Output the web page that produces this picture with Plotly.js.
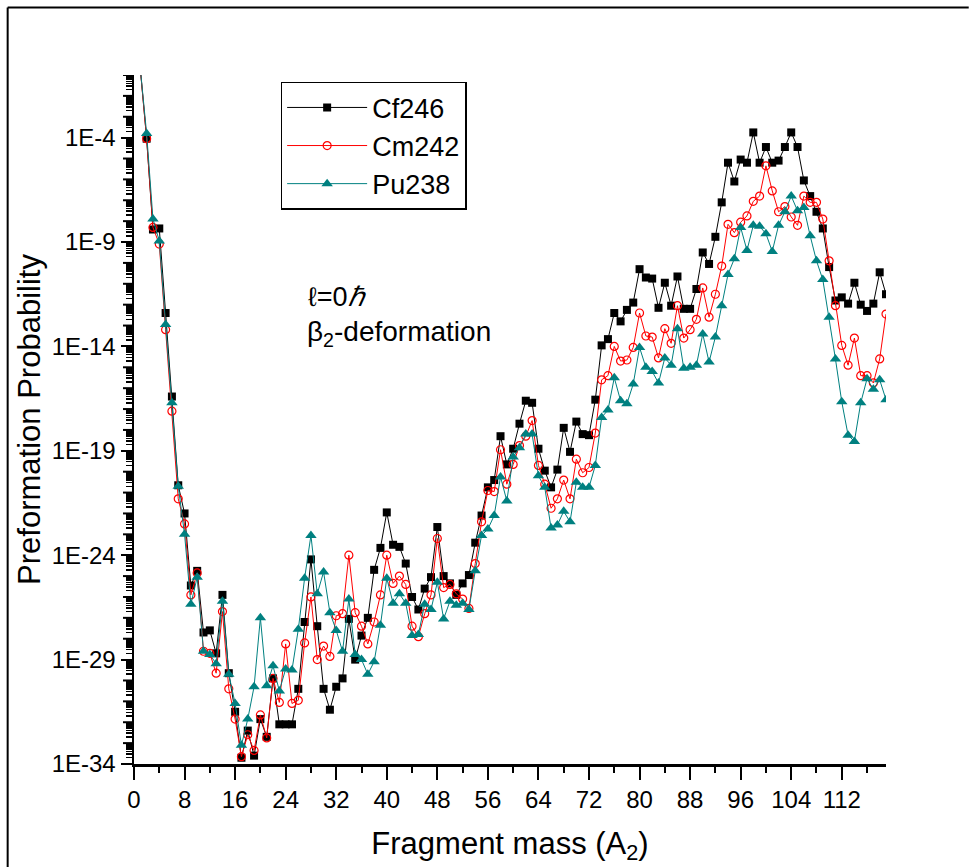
<!DOCTYPE html>
<html>
<head>
<meta charset="utf-8">
<script src="https://cdn.plot.ly/plotly-3.0.1.min.js"></script>
<style>
  html, body { margin: 0; padding: 0; background: #ffffff; }
  #chart { width: 969px; height: 867px; }
</style>
</head>
<body>
<div id="chart"></div>
<script>
// Fragment mass A2 (1..119)
const fragmentMass = Array.from({length: 119}, (_, i) => i + 1);

// log10 of preformation probability
const cf246Log = [
  -0.7, -4.05, -8.4, -8.35, -12.4, -16.4, -20.65, -22.0, -25.45, -24.75,
  -27.7, -27.6, -28.7, -25.9, -29.65, -31.5, -33.7, -32.4, -33.6, -31.85,
  -32.7, -29.9, -32.1, -32.1, -32.1, -30.4, -27.2, -24.2, -27.4, -30.4,
  -31.4, -30.3, -29.9, -27.05, -29.0, -27.85, -27.0, -24.7, -23.65, -21.95,
  -23.5, -23.6, -24.4, -26.0, -26.6, -25.6, -25.05, -22.65, -25.0, -25.35,
  -25.9, -25.35, -24.95, -23.4, -22.1, -20.75, -20.4, -18.3, -19.65, -18.9,
  -17.7, -16.6, -16.7, -18.9, -19.95, -20.75, -19.9, -17.9, -19.05, -17.6,
  -18.2, -18.25, -16.55, -13.95, -13.65, -12.4, -12.8, -12.25, -11.9, -10.3,
  -10.7, -10.75, -12.15, -10.95, -12.05, -10.65, -12.2, -12.2, -11.25, -9.5,
  -10.05, -8.75, -7.1, -5.2, -6.1, -5.05, -5.2, -3.75, -5.2, -4.45,
  -5.2, -5.1, -4.45, -3.75, -4.45, -6.05, -6.8, -7.55, -8.35, -10.2,
  -11.8, -11.65, -11.95, -10.95, -12.0, -12.3, -11.95, -10.45, -11.5
];
const cm242Log = [
  -0.7, -4.05, -8.3, -9.1, -13.2, -17.1, -21.3, -22.5, -25.9, -24.85,
  -28.6, -28.7, -29.65, -26.7, -30.4, -31.85, -33.65, -32.6, -33.35, -31.65,
  -32.75, -29.9, -31.05, -28.25, -31.1, -30.95, -28.2, -26.0, -29.0, -28.35,
  -28.85, -26.9, -26.8, -24.0, -26.75, -27.4, -28.25, -27.2, -25.9, -24.0,
  -25.35, -25.0, -25.4, -27.4, -27.9, -26.8, -25.9, -23.2, -25.55, -25.4,
  -25.85, -26.1, -26.55, -24.4, -22.4, -20.9, -20.95, -18.95, -20.6, -19.65,
  -18.75, -18.3, -17.55, -19.7, -20.6, -21.75, -21.3, -20.4, -21.3, -19.4,
  -20.05, -19.8, -18.15, -15.6, -15.4, -14.0, -14.7, -14.65, -14.05, -12.4,
  -13.5, -13.55, -14.55, -13.15, -13.85, -12.05, -13.6, -13.2, -12.7, -11.2,
  -12.6, -11.5, -10.15, -8.15, -8.55, -8.05, -7.75, -7.05, -6.8, -5.35,
  -6.55, -7.55, -7.3, -7.8, -8.2, -6.8, -7.1, -7.1, -7.9, -9.9,
  -12.05, -13.95, -14.9, -13.6, -15.4, -15.4, -15.75, -14.6, -12.45
];
const pu238Log = [
  -0.7, -3.8, -7.9, -8.95, -12.95, -16.7, -20.7, -23.0, -26.35, -25.05,
  -28.6, -28.75, -29.2, -26.2, -29.7, -31.1, -33.1, -31.85, -30.3, -27.0,
  -30.25, -29.3, -30.5, -29.45, -29.5, -27.55, -25.1, -23.05, -25.85, -24.8,
  -26.75, -27.6, -28.6, -26.1, -28.75, -29.0, -29.7, -29.1, -27.35, -25.1,
  -26.3, -25.85, -26.3, -27.85, -27.8, -26.35, -26.6, -25.3, -27.05, -26.2,
  -26.4, -26.3, -26.6, -24.75, -23.05, -22.75, -22.1, -20.25, -21.4, -19.3,
  -18.85, -18.2, -18.2, -20.2, -20.75, -22.7, -22.55, -21.9, -22.4, -20.5,
  -20.75, -20.75, -19.7, -17.4, -17.05, -15.5, -16.6, -16.75, -15.8, -14.05,
  -15.0, -15.2, -15.75, -14.55, -14.9, -13.15, -15.05, -15.0, -14.9, -13.4,
  -14.75, -13.55, -12.05, -10.55, -9.8, -8.3, -9.4, -8.2, -8.25, -8.6,
  -9.45, -8.2, -7.55, -6.8, -7.5, -7.35, -8.7, -9.9, -10.8, -12.6,
  -14.6, -16.65, -18.25, -18.55, -16.7, -15.55, -16.05, -15.6, -16.55
];

const seriesNames = ["Cf246", "Cm242", "Pu238"];
const labeledDecades = [-34, -29, -24, -19, -14, -9, -4];
const xTickStep = 8;

const toVal = arr => arr.map(v => Math.pow(10, v));

const narrow = "Liberation Sans Narrow, Arial Narrow, Liberation Sans, Arial, sans-serif";
const regular = "Liberation Sans, Arial, sans-serif";

const traces = [
  {
    x: fragmentMass, y: toVal(cf246Log), name: seriesNames[0],
    type: "scatter", mode: "lines+markers",
    line: {color: "#000000", width: 1},
    marker: {symbol: "square", size: 8, color: "#000000"}
  },
  {
    x: fragmentMass, y: toVal(cm242Log), name: seriesNames[1],
    type: "scatter", mode: "lines+markers",
    line: {color: "#ff0000", width: 1},
    marker: {symbol: "circle-open", size: 8, color: "#ff0000", line: {width: 1.2}}
  },
  {
    x: fragmentMass, y: toVal(pu238Log), name: seriesNames[2],
    type: "scatter", mode: "lines+markers",
    line: {color: "#008080", width: 1},
    marker: {symbol: "triangle-up", size: 10, color: "#008080"}
  }
];

// y ticks: labels every 5 decades, long ticks every decade, short sub-decade ticks
const labeledVals = labeledDecades.map(d => Math.pow(10, d));
const labeledText = labeledDecades.map(d => "1E" + d);
const decadeVals = [], subVals = [];
for (let d = -34; d <= -1; d++) {
  if (!labeledDecades.includes(d)) decadeVals.push(Math.pow(10, d));
  if (d < -1) for (let k = 2; k <= 9; k++) subVals.push(k * Math.pow(10, d));
}
const plotWidthPx = 969 - 134 - 83;
const decadeTickShapes = decadeVals.map(v => ({
  type: "line", xref: "paper", yref: "y", x0: -11 / plotWidthPx, x1: 0, y0: v, y1: v,
  line: {color: "#000000", width: 2}
}));

const layout = {
  width: 969, height: 867,
  margin: {l: 134, r: 83, t: 75, b: 103},
  paper_bgcolor: "#ffffff", plot_bgcolor: "#ffffff",
  font: {family: narrow, color: "#000000"},
  showlegend: true,
  legend: {
    x: 0.195, y: 0.99, xanchor: "left", yanchor: "top",
    bordercolor: "#000000", borderwidth: 1.5, bgcolor: "#ffffff",
    font: {family: regular, size: 27}, itemwidth: 80
  },
  xaxis: {
    range: [0, 119], showgrid: false, zeroline: false,
    showline: true, linecolor: "#000000", linewidth: 2.5,
    ticks: "outside", ticklen: 13, tickwidth: 2, tickcolor: "#000000",
    tick0: 0, dtick: xTickStep,
    minor: {dtick: xTickStep / 2, ticks: "outside", ticklen: 6, tickwidth: 2, tickcolor: "#000000"},
    tickfont: {family: narrow, size: 24},
    title: {text: "Fragment mass (A<sub>2</sub>)", font: {family: narrow, size: 31}, standoff: 20}
  },
  yaxis: {
    type: "log", range: [-34, -1], showgrid: false, zeroline: false,
    showline: true, linecolor: "#000000", linewidth: 2.5,
    tickmode: "array", tickvals: labeledVals, ticktext: labeledText,
    ticks: "outside", ticklen: 11, tickwidth: 2, tickcolor: "#000000",
    minor: {tickmode: "array", tickvals: subVals, ticks: "outside", ticklen: 6, tickwidth: 1.5, tickcolor: "#000000"},
    tickfont: {family: narrow, size: 24},
    title: {text: "Preformation Probability", font: {family: regular, size: 31}, standoff: 2}
  },
  annotations: [
    {xref: "paper", yref: "paper", x: 0.229, y: 0.678, xanchor: "left", yanchor: "middle",
     text: "ℓ=0<i>ℏ</i>", showarrow: false, font: {family: regular, size: 27}},
    {xref: "paper", yref: "paper", x: 0.227, y: 0.6255, xanchor: "left", yanchor: "middle",
     text: "β<sub>2</sub>-deformation", showarrow: false, font: {family: regular, size: 28}}
  ],
  shapes: [
    {type: "line", xref: "paper", yref: "paper", x0: -0.168, x1: 1.11, y0: 1.098, y1: 1.098,
     line: {color: "#000000", width: 2}},
    {type: "line", xref: "paper", yref: "paper", x0: -0.168, x1: -0.168, y0: 1.098, y1: -0.2,
     line: {color: "#000000", width: 2}}
  ].concat(decadeTickShapes)
};

Plotly.newPlot("chart", traces, layout, {displayModeBar: false, staticPlot: true});
</script>
</body>
</html>
